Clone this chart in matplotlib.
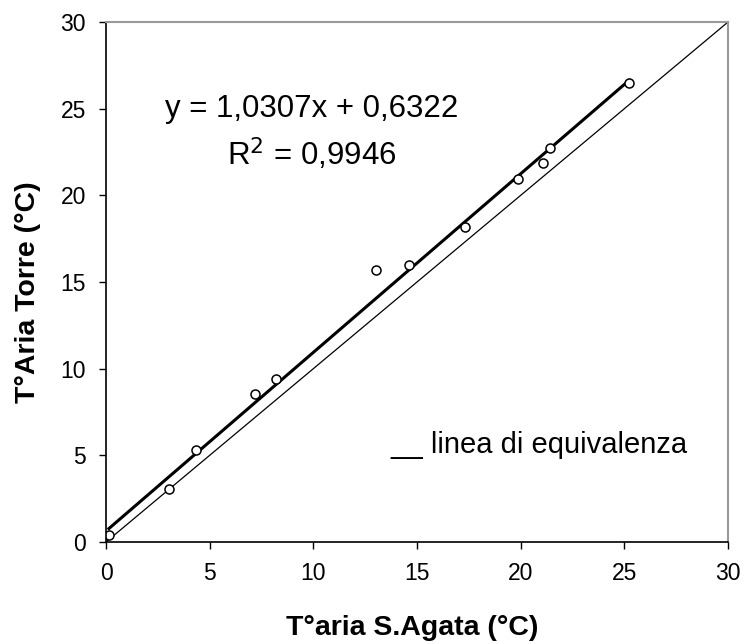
import matplotlib
matplotlib.use("Agg")
import matplotlib.pyplot as plt

plt.rcParams['font.family'] = ['Liberation Sans', 'DejaVu Sans']

# temperature readings (°C)
t_sagata = [0.14, 3.05, 4.34, 7.19, 8.22, 13.04, 14.62, 17.33, 19.89, 21.10, 21.40, 25.23]
t_torre = [0.39, 3.04, 5.31, 8.56, 9.42, 15.71, 15.97, 18.19, 20.93, 21.85, 22.72, 26.47]

slope = 1.0307
intercept = 0.6322
r2 = 0.9946

ticks = [0, 5, 10, 15, 20, 25, 30]

fig = plt.figure(figsize=(7.45, 6.44), dpi=100)
ax = fig.add_axes([0.1423, 0.1584, 0.8349, 0.8074])

# line of equivalence
ax.plot([0, 30], [0, 30], color='black', linewidth=0.9)

# linear fit over the data range
x_fit = [min(t_sagata), max(t_sagata)]
y_fit = [slope * x + intercept for x in x_fit]
ax.plot(x_fit, y_fit, color='black', linewidth=2.2)

ax.plot(t_sagata, t_torre, linestyle='none', marker='o', markersize=6.5,
        markerfacecolor='white', markeredgecolor='black', markeredgewidth=1.1)

ax.set_xlim(0, 30)
ax.set_ylim(0, 30)
ax.set_xticks(ticks)
ax.set_yticks(ticks)
ax.tick_params(direction='out', length=5, width=1, labelsize=16.5, pad=9.5)

for side in ['left', 'bottom']:
    ax.spines[side].set_linewidth(1.2)
for side in ['top', 'right']:
    ax.spines[side].set_color('#999999')
    ax.spines[side].set_linewidth(1.5)

ax.set_xlabel("T°aria S.Agata (°C)", fontsize=20.5, fontweight='bold', va='center')
ax.set_ylabel("T°Aria Torre (°C)", fontsize=20.5, fontweight='bold', va='center')
ax.xaxis.set_label_coords(0.492, -0.165)
ax.yaxis.set_label_coords(-0.125, 0.481)

eq = "y = 1,0307x + 0,6322"
ax.text(9.9, 25.0, eq, fontsize=22.5, ha='center', va='center')
ax.text(9.9, 22.4, "R$^2$ = 0,9946", fontsize=22.5, ha='center', va='center')

ax.text(13.7, 5.6, "__ linea di equivalenza", fontsize=21, ha='left', va='center')

fig.savefig("out.png", dpi=100)
